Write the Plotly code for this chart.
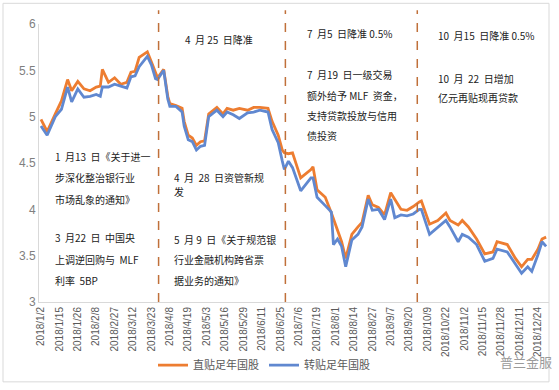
import plotly.graph_objects as go

# ---- data ----
tick_labels = ["2018/1/2", "2018/1/15", "2018/1/26", "2018/2/8", "2018/2/27", "2018/3/12",
               "2018/3/23", "2018/4/8", "2018/4/19", "2018/5/3", "2018/5/16", "2018/5/29",
               "2018/6/11", "2018/6/25", "2018/7/6", "2018/7/19", "2018/8/1", "2018/8/14",
               "2018/8/27", "2018/9/7", "2018/9/20", "2018/10/9", "2018/10/22", "2018/11/2",
               "2018/11/15", "2018/11/28", "2018/12/11", "2018/12/24"]
tick_step = 9  # trading days between labels

day_idx = [0, 3, 7, 10, 13, 15, 18, 21, 24, 27, 29, 30, 33, 36, 39, 42, 44, 46, 48, 52,
           54, 56, 57, 60, 62, 63, 66, 69, 70, 72, 74, 76, 78, 80, 82, 86, 89, 91, 94, 97,
           101, 104, 107, 111, 113, 116, 118, 119, 121, 123, 127, 132, 133, 135, 139, 142, 143, 145, 147, 149,
           152, 155, 157, 160, 162, 165, 168, 171, 173, 176, 179, 182, 185, 186, 190, 194, 198, 200, 204, 206,
           209, 213, 217, 221, 223, 228, 232, 235, 238, 240, 243, 245, 247]

zhitie = [4.97, 4.84, 5.03, 5.17, 5.40, 5.28, 5.38, 5.30, 5.28, 5.32, 5.33, 5.51, 5.37, 5.42, 5.35, 5.37, 5.48, 5.49, 5.64, 5.70,
          5.59, 5.46, 5.42, 5.51, 5.22, 5.14, 5.12, 5.09, 4.95, 4.80, 4.77, 4.69, 4.73, 4.74, 5.03, 5.10, 5.03, 5.09, 5.07, 5.09,
          5.07, 5.10, 5.10, 5.09, 4.95, 4.80, 4.64, 4.61, 4.60, 4.61, 4.34, 4.43, 4.46, 4.21, 4.13, 3.96, 3.90, 3.78, 3.65, 3.47,
          3.73, 3.81, 3.86, 4.15, 4.05, 4.02, 3.94, 4.18, 4.11, 4.00, 3.99, 4.03, 4.08, 4.09, 3.84, 3.88, 3.96, 3.88, 3.83, 3.88,
          3.81, 3.68, 3.52, 3.54, 3.65, 3.62, 3.47, 3.38, 3.46, 3.46, 3.57, 3.68, 3.70]

zhuantie = [4.90, 4.80, 5.00, 5.08, 5.32, 5.16, 5.30, 5.21, 5.22, 5.24, 5.22, 5.32, 5.32, 5.35, 5.33, 5.31, 5.43, 5.44, 5.54, 5.65,
            5.56, 5.41, 5.40, 5.50, 5.19, 5.11, 5.11, 5.05, 4.90, 4.75, 4.73, 4.64, 4.68, 4.69, 5.00, 5.07, 5.00, 5.05, 5.02, 4.98,
            5.04, 5.05, 5.07, 5.05, 4.86, 4.72, 4.52, 4.43, 4.52, 4.45, 4.20, 4.34, 4.34, 4.13, 4.04, 3.97, 3.62, 3.68, 3.60, 3.38,
            3.67, 3.73, 3.81, 4.11, 3.99, 4.00, 3.89, 4.11, 3.91, 3.94, 3.93, 3.95, 4.00, 4.00, 3.73, 3.81, 3.88, 3.81, 3.65, 3.73,
            3.70, 3.62, 3.44, 3.47, 3.57, 3.54, 3.41, 3.31, 3.38, 3.33, 3.51, 3.65, 3.60]

event_idx = [57.5, 119.5, 184]

notes = [
    ("4  月 25  日降准", 183, 40),
    ("1  月13  日《关于进一", 53, 158),
    ("步深化整治银行业", 53, 180),
    ("市场乱象的通知》", 53, 202),
    ("3  月22  日  中国央", 53, 241),
    ("上调逆回购与  MLF", 53, 263),
    ("利率  5BP", 53, 284),
    ("4  月  28  日资管新规", 172, 180),
    ("发", 172, 194),
    ("5  月 9  日《关于规范银", 172, 243),
    ("行业金融机构跨省票", 172, 263),
    ("据业务的通知》", 172, 284),
    ("7  月5  日降准 0.5%", 305, 34),
    ("7  月19  日一级交易", 305, 75),
    ("额外给予 MLF  资金，", 305, 97),
    ("支持贷款投放与信用", 305, 117),
    ("债投资", 305, 137),
    ("10  月15  日降准 0.5%", 436, 36),
    ("10  月  22  日增加", 436, 79),
    ("亿元再贴现再贷款", 436, 99),
]

# ---- layout geometry (pixels) ----
W, H = 559, 390
L, R, T, B = 39, 10, 24, 84
pw, ph = W - L - R, H - T - B
px_per_day = 2.045
x0 = -(41 - L) / px_per_day
x1 = x0 + pw / px_per_day


def pxx(x):
    return (x - L) / pw


def pxy(y):
    return (H - B - y) / ph


ORANGE = "#ED7D31"
BLUE = "#6088D0"
CJK = "Noto Sans CJK SC, Liberation Sans, sans-serif"

fig = go.Figure()
fig.add_trace(go.Scatter(x=day_idx, y=zhitie, mode="lines", name="直贴足年国股",
                         line=dict(color=ORANGE, width=2.8)))
fig.add_trace(go.Scatter(x=day_idx, y=zhuantie, mode="lines", name="转贴足年国股",
                         line=dict(color=BLUE, width=2.8)))

shapes = []
for e in event_idx:
    shapes.append(dict(type="line", xref="x", yref="paper", x0=e, x1=e,
                       y0=0, y1=pxy(10), line=dict(color="#C0703A", width=1.5, dash="dash")))
# chart border
shapes.append(dict(type="rect", xref="paper", yref="paper", x0=pxx(3), x1=pxx(549),
                   y0=pxy(387), y1=pxy(3), line=dict(color="#D9D9D9", width=1), layer="below"))

annotations = []
for txt, x, y in notes:
    annotations.append(dict(text=txt, xref="paper", yref="paper", x=pxx(x), y=pxy(y),
                            xanchor="left", yanchor="middle", showarrow=False,
                            font=dict(family=CJK, size=10, color="#222222")))
annotations.append(dict(text="普兰金服", xref="paper", yref="paper", x=pxx(498), y=pxy(366),
                        xanchor="left", yanchor="middle", showarrow=False,
                        font=dict(family=CJK, size=13, color="#9A9A9A")))

fig.update_layout(
    width=W, height=H,
    margin=dict(l=L, r=R, t=T, b=B, pad=0),
    paper_bgcolor="white", plot_bgcolor="white",
    showlegend=True,
    legend=dict(orientation="h", x=pxx(153), xanchor="left", y=pxy(370), yanchor="middle",
                font=dict(family=CJK, size=11, color="#595959"), itemwidth=30,
                traceorder="normal", bgcolor="rgba(0,0,0,0)"),
    shapes=shapes,
    annotations=annotations,
)
fig.update_xaxes(range=[x0, x1], tickmode="array",
                 tickvals=[i * tick_step for i in range(len(tick_labels))],
                 ticktext=tick_labels, tickangle=-90, showgrid=False, zeroline=False,
                 showline=True, linecolor="#D9D9D9", linewidth=1, ticks="",
                 tickfont=dict(family="Liberation Sans, Arial", size=10, color="#595959"))
fig.update_yaxes(range=[3, 6], tickvals=[3, 3.5, 4, 4.5, 5, 5.5, 6],
                 ticktext=["3", "3.5", "4", "4.5", "5", "5.5", "6"], showgrid=False,
                 zeroline=False, showline=True, linecolor="#D9D9D9", linewidth=1, ticks="",
                 tickfont=dict(family="Liberation Sans, Arial", size=12, color="#7F7F7F"))

fig.write_html("out.html", config={"displayModeBar": False},
               post_script="document.body.style.margin='0';document.body.style.overflow='hidden';")
